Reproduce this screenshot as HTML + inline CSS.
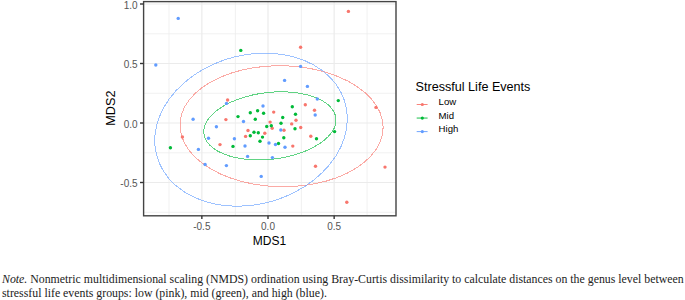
<!DOCTYPE html>
<html><head><meta charset="utf-8"><style>
html,body{margin:0;padding:0;background:#fff;}
body{width:685px;height:300px;position:relative;overflow:hidden;}
svg{position:absolute;left:0;top:0;}
.gm{stroke:#EBEBEB;stroke-width:0.7;}
.gM{stroke:#EBEBEB;stroke-width:1.2;}
.tk{stroke:#333;stroke-width:1.4;}
.ax{font-family:"Liberation Sans",sans-serif;font-size:10px;fill:#555;}
.at{font-family:"Liberation Sans",sans-serif;font-size:12px;fill:#000;}
.lt{font-family:"Liberation Sans",sans-serif;font-size:12.6px;fill:#000;}
.ll{font-family:"Liberation Sans",sans-serif;font-size:9.6px;fill:#000;}
.note{position:absolute;left:2px;font-family:"Liberation Serif",serif;font-size:11.83px;line-height:14px;color:#222;white-space:nowrap;}
</style></head><body>
<svg width="685" height="300" viewBox="0 0 685 300">
<line x1="169.00" y1="1.6" x2="169.00" y2="215.8" class="gm"/>
<line x1="235.40" y1="1.6" x2="235.40" y2="215.8" class="gm"/>
<line x1="301.40" y1="1.6" x2="301.40" y2="215.8" class="gm"/>
<line x1="367.10" y1="1.6" x2="367.10" y2="215.8" class="gm"/>
<line x1="143.6" y1="33.75" x2="396.0" y2="33.75" class="gm"/>
<line x1="143.6" y1="93.25" x2="396.0" y2="93.25" class="gm"/>
<line x1="143.6" y1="152.75" x2="396.0" y2="152.75" class="gm"/>
<line x1="143.6" y1="212.25" x2="396.0" y2="212.25" class="gm"/>
<line x1="201.85" y1="1.6" x2="201.85" y2="215.8" class="gM"/>
<line x1="268.00" y1="1.6" x2="268.00" y2="215.8" class="gM"/>
<line x1="334.15" y1="1.6" x2="334.15" y2="215.8" class="gM"/>
<line x1="143.6" y1="4.00" x2="396.0" y2="4.00" class="gM"/>
<line x1="143.6" y1="63.50" x2="396.0" y2="63.50" class="gM"/>
<line x1="143.6" y1="123.00" x2="396.0" y2="123.00" class="gM"/>
<line x1="143.6" y1="182.50" x2="396.0" y2="182.50" class="gM"/>
<path d="M383.13,127.34 L382.36,134.78 L380.06,142.08 L376.27,149.14 L371.04,155.86 L364.46,162.12 L356.61,167.84 L347.63,172.93 L337.65,177.32 L326.81,180.93 L315.29,183.71 L303.25,185.62 L290.89,186.62 L278.39,186.72 L265.93,185.89 L253.71,184.17 L241.91,181.56 L230.71,178.12 L220.28,173.89 L210.77,168.93 L202.35,163.33 L195.12,157.17 L189.20,150.54 L184.68,143.54 L181.63,136.28 L180.09,128.86 L180.09,121.41 L181.63,114.03 L184.68,106.83 L189.20,99.93 L195.12,93.43 L202.35,87.42 L210.77,82.00 L220.28,77.26 L230.71,73.25 L241.91,70.05 L253.71,67.70 L265.93,66.24 L278.39,65.69 L290.89,66.06 L303.25,67.33 L315.29,69.51 L326.81,72.54 L337.65,76.38 L347.63,80.98 L356.61,86.27 L364.46,92.16 L371.04,98.57 L376.27,105.40 L380.06,112.54 L382.36,119.90 L383.13,127.34Z" fill="none" stroke="#F8766D" stroke-width="1" stroke-opacity="0.62" shape-rendering="crispEdges"/>
<path d="M336.03,120.02 L335.53,124.19 L334.04,128.39 L331.57,132.55 L328.16,136.61 L323.88,140.50 L318.77,144.18 L312.92,147.57 L306.43,150.64 L299.37,153.33 L291.87,155.61 L284.04,157.43 L275.99,158.78 L267.85,159.63 L259.75,159.96 L251.79,159.78 L244.11,159.08 L236.82,157.88 L230.03,156.20 L223.85,154.05 L218.36,151.48 L213.66,148.52 L209.80,145.22 L206.86,141.62 L204.88,137.78 L203.87,133.77 L203.87,129.63 L204.88,125.44 L206.86,121.25 L209.80,117.13 L213.66,113.15 L218.36,109.35 L223.85,105.81 L230.03,102.57 L236.82,99.69 L244.11,97.20 L251.79,95.15 L259.75,93.56 L267.85,92.46 L275.99,91.87 L284.04,91.79 L291.87,92.23 L299.37,93.18 L306.43,94.63 L312.92,96.55 L318.77,98.91 L323.88,101.68 L328.16,104.82 L331.57,108.28 L334.04,112.00 L335.53,115.93 L336.03,120.02Z" fill="none" stroke="#00BA38" stroke-width="1" stroke-opacity="0.62" shape-rendering="crispEdges"/>
<path d="M347.36,118.73 L346.63,128.12 L344.45,137.54 L340.86,146.85 L335.90,155.89 L329.66,164.53 L322.22,172.64 L313.71,180.11 L304.25,186.81 L293.98,192.64 L283.05,197.52 L271.65,201.37 L259.93,204.13 L248.07,205.77 L236.27,206.25 L224.68,205.57 L213.50,203.74 L202.88,200.78 L192.99,196.75 L183.99,191.71 L176.00,185.72 L169.15,178.88 L163.54,171.30 L159.25,163.08 L156.36,154.36 L154.90,145.27 L154.90,135.94 L156.36,126.51 L159.25,117.13 L163.54,107.94 L169.15,99.08 L176.00,90.69 L183.99,82.88 L192.99,75.79 L202.88,69.51 L213.50,64.15 L224.68,59.77 L236.27,56.46 L248.07,54.26 L259.93,53.20 L271.65,53.30 L283.05,54.56 L293.98,56.95 L304.25,60.45 L313.71,65.00 L322.22,70.53 L329.66,76.95 L335.90,84.17 L340.86,92.09 L344.45,100.57 L346.63,109.50 L347.36,118.73Z" fill="none" stroke="#619CFF" stroke-width="1" stroke-opacity="0.62" shape-rendering="crispEdges"/>
<circle cx="348.4" cy="11.4" r="1.7" fill="#F8766D"/>
<circle cx="300.6" cy="47.2" r="1.7" fill="#F8766D"/>
<circle cx="227.6" cy="100" r="1.7" fill="#F8766D"/>
<circle cx="182.4" cy="137" r="1.7" fill="#F8766D"/>
<circle cx="220" cy="144.6" r="1.7" fill="#F8766D"/>
<circle cx="225.9" cy="119.6" r="1.7" fill="#F8766D"/>
<circle cx="273.7" cy="112.1" r="1.7" fill="#F8766D"/>
<circle cx="270.1" cy="122.1" r="1.7" fill="#F8766D"/>
<circle cx="272.2" cy="128.2" r="1.7" fill="#F8766D"/>
<circle cx="248" cy="130.5" r="1.7" fill="#F8766D"/>
<circle cx="264.8" cy="133.3" r="1.7" fill="#F8766D"/>
<circle cx="245.6" cy="136.4" r="1.7" fill="#F8766D"/>
<circle cx="291.7" cy="123.9" r="1.7" fill="#F8766D"/>
<circle cx="296" cy="120.3" r="1.7" fill="#F8766D"/>
<circle cx="305.3" cy="104.8" r="1.7" fill="#F8766D"/>
<circle cx="314.5" cy="110.3" r="1.7" fill="#F8766D"/>
<circle cx="300.7" cy="127.5" r="1.7" fill="#F8766D"/>
<circle cx="284" cy="130.3" r="1.7" fill="#F8766D"/>
<circle cx="310.8" cy="136.3" r="1.7" fill="#F8766D"/>
<circle cx="292.8" cy="146.1" r="1.7" fill="#F8766D"/>
<circle cx="315.5" cy="166.2" r="1.7" fill="#F8766D"/>
<circle cx="376" cy="107.4" r="1.7" fill="#F8766D"/>
<circle cx="385" cy="167.1" r="1.7" fill="#F8766D"/>
<circle cx="346.8" cy="202.3" r="1.7" fill="#F8766D"/>
<circle cx="240.8" cy="50.4" r="1.7" fill="#00BA38"/>
<circle cx="170.4" cy="147.8" r="1.7" fill="#00BA38"/>
<circle cx="238" cy="116.6" r="1.7" fill="#00BA38"/>
<circle cx="250.3" cy="112.7" r="1.7" fill="#00BA38"/>
<circle cx="257.6" cy="110.8" r="1.7" fill="#00BA38"/>
<circle cx="263.6" cy="113.3" r="1.7" fill="#00BA38"/>
<circle cx="255.3" cy="119.2" r="1.7" fill="#00BA38"/>
<circle cx="292.3" cy="106.7" r="1.7" fill="#00BA38"/>
<circle cx="282.7" cy="117.5" r="1.7" fill="#00BA38"/>
<circle cx="295.5" cy="114.3" r="1.7" fill="#00BA38"/>
<circle cx="271.3" cy="125.7" r="1.7" fill="#00BA38"/>
<circle cx="266.7" cy="126.5" r="1.7" fill="#00BA38"/>
<circle cx="281" cy="123.3" r="1.7" fill="#00BA38"/>
<circle cx="295" cy="128.8" r="1.7" fill="#00BA38"/>
<circle cx="254" cy="132.2" r="1.7" fill="#00BA38"/>
<circle cx="258.3" cy="132.7" r="1.7" fill="#00BA38"/>
<circle cx="250.3" cy="135.8" r="1.7" fill="#00BA38"/>
<circle cx="262.5" cy="137.1" r="1.7" fill="#00BA38"/>
<circle cx="260" cy="141.3" r="1.7" fill="#00BA38"/>
<circle cx="233" cy="146.4" r="1.7" fill="#00BA38"/>
<circle cx="278.5" cy="143.5" r="1.7" fill="#00BA38"/>
<circle cx="283.8" cy="137.7" r="1.7" fill="#00BA38"/>
<circle cx="316.5" cy="138.7" r="1.7" fill="#00BA38"/>
<circle cx="334.6" cy="131.6" r="1.7" fill="#00BA38"/>
<circle cx="338.3" cy="100.6" r="1.7" fill="#00BA38"/>
<circle cx="178.2" cy="18.4" r="1.7" fill="#619CFF"/>
<circle cx="155.8" cy="65" r="1.7" fill="#619CFF"/>
<circle cx="193.1" cy="119.3" r="1.7" fill="#619CFF"/>
<circle cx="198.4" cy="149.4" r="1.7" fill="#619CFF"/>
<circle cx="216.4" cy="126.8" r="1.7" fill="#619CFF"/>
<circle cx="208.5" cy="138.2" r="1.7" fill="#619CFF"/>
<circle cx="205.1" cy="164.5" r="1.7" fill="#619CFF"/>
<circle cx="226.5" cy="103.4" r="1.7" fill="#619CFF"/>
<circle cx="263" cy="106" r="1.7" fill="#619CFF"/>
<circle cx="284.6" cy="80.4" r="1.7" fill="#619CFF"/>
<circle cx="300.6" cy="66.4" r="1.7" fill="#619CFF"/>
<circle cx="307.4" cy="86.4" r="1.7" fill="#619CFF"/>
<circle cx="317.3" cy="99" r="1.7" fill="#619CFF"/>
<circle cx="315.2" cy="115" r="1.7" fill="#619CFF"/>
<circle cx="243.5" cy="121.5" r="1.7" fill="#619CFF"/>
<circle cx="234.4" cy="138.8" r="1.7" fill="#619CFF"/>
<circle cx="245" cy="146" r="1.7" fill="#619CFF"/>
<circle cx="269" cy="143" r="1.7" fill="#619CFF"/>
<circle cx="275.5" cy="144.5" r="1.7" fill="#619CFF"/>
<circle cx="280.8" cy="130" r="1.7" fill="#619CFF"/>
<circle cx="285" cy="147.2" r="1.7" fill="#619CFF"/>
<circle cx="247.6" cy="156.4" r="1.7" fill="#619CFF"/>
<circle cx="272.4" cy="157.6" r="1.7" fill="#619CFF"/>
<circle cx="226.4" cy="165.6" r="1.7" fill="#619CFF"/>
<circle cx="261.2" cy="176.4" r="1.7" fill="#619CFF"/>
<rect x="143.6" y="1.6" width="252.40" height="214.20" fill="none" stroke="#444" stroke-width="1.4"/>
<line x1="140" y1="4.00" x2="143.6" y2="4.00" class="tk"/>
<line x1="140" y1="63.50" x2="143.6" y2="63.50" class="tk"/>
<line x1="140" y1="123.00" x2="143.6" y2="123.00" class="tk"/>
<line x1="140" y1="182.50" x2="143.6" y2="182.50" class="tk"/>
<line x1="201.85" y1="215.8" x2="201.85" y2="219" class="tk"/>
<line x1="268.00" y1="215.8" x2="268.00" y2="219" class="tk"/>
<line x1="334.15" y1="215.8" x2="334.15" y2="219" class="tk"/>
<text x="137.6" y="8.90" class="ax" text-anchor="end">1.0</text>
<text x="137.6" y="68.40" class="ax" text-anchor="end">0.5</text>
<text x="137.6" y="127.90" class="ax" text-anchor="end">0.0</text>
<text x="137.6" y="187.40" class="ax" text-anchor="end">-0.5</text>
<text x="201.85" y="230" class="ax" text-anchor="middle">-0.5</text>
<text x="268.00" y="230" class="ax" text-anchor="middle">0.0</text>
<text x="334.15" y="230" class="ax" text-anchor="middle">0.5</text>
<text x="269.5" y="244.8" class="at" text-anchor="middle">MDS1</text>
<text transform="translate(115.2,108.1) rotate(-90) scale(1.055,1)" x="0" y="0" class="at" text-anchor="middle">MDS2</text>
<text x="415.6" y="90.6" class="lt">Stressful Life Events</text>
<line x1="416.7" y1="104.50" x2="427.6" y2="104.50" stroke="#F8766D" stroke-width="0.9"/>
<circle cx="422.3" cy="104.50" r="1.6" fill="#F8766D"/>
<text x="438.6" y="105.1" class="ll">Low</text>
<line x1="416.7" y1="118.05" x2="427.6" y2="118.05" stroke="#00BA38" stroke-width="0.9"/>
<circle cx="422.3" cy="118.05" r="1.6" fill="#00BA38"/>
<text x="438.6" y="118.6" class="ll">Mid</text>
<line x1="416.7" y1="131.60" x2="427.6" y2="131.60" stroke="#619CFF" stroke-width="0.9"/>
<circle cx="422.3" cy="131.60" r="1.6" fill="#619CFF"/>
<text x="438.6" y="132.0" class="ll">High</text>
</svg>
<div class="note" style="top:271.7px"><i>Note.</i> Nonmetric multidimensional scaling (NMDS) ordination using Bray-Curtis dissimilarity to calculate distances on the genus level between</div>
<div class="note" style="top:285.8px">stressful life events groups: low (pink), mid (green), and high (blue).</div>
</body></html>
